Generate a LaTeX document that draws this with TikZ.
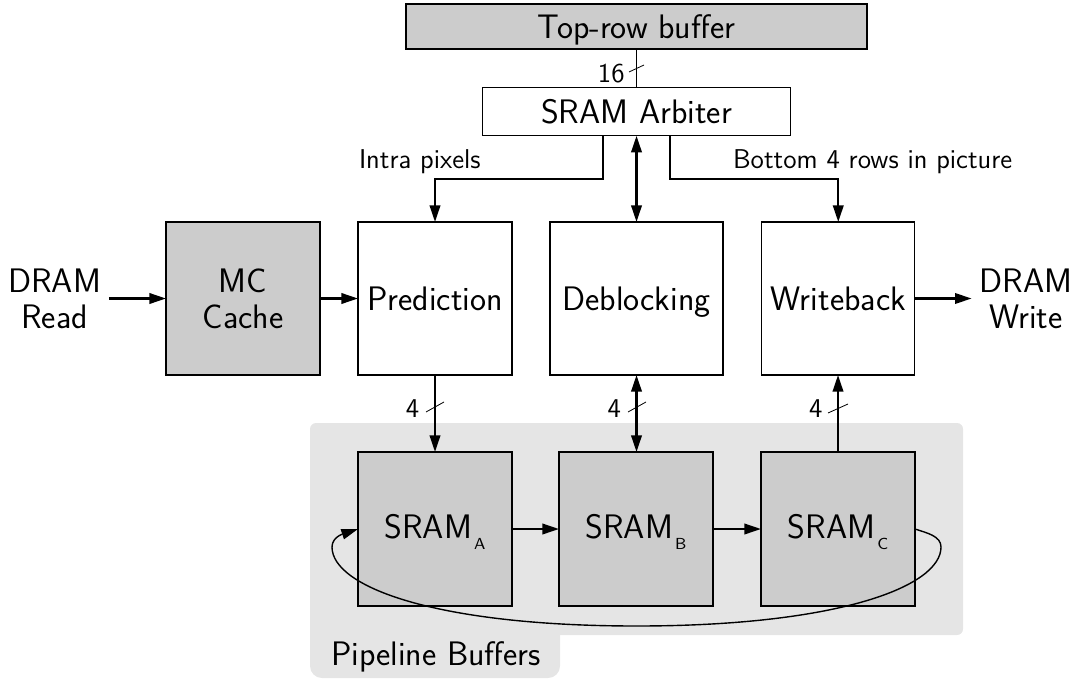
\documentclass[tikz,border=0pt]{standalone}
\usetikzlibrary{arrows.meta,calc}
\renewcommand{\familydefault}{\sfdefault}

% font sizes used in the block diagram
\newcommand{\diagbig}{\sffamily\fontsize{17pt}{18pt}\selectfont}
\newcommand{\diagsmall}{\sffamily\fontsize{13.6pt}{16pt}\selectfont}
% small lowered index for the SRAM banks
\newcommand{\sramidx}[1]{\kern1pt\raisebox{-5.5pt}{\fontsize{8pt}{9pt}\selectfont #1}}

\tikzset{
  blk/.style={draw, line width=0.7pt, inner sep=0pt, outer sep=0pt,
              align=center, font=\diagbig, text depth=0pt},
  shaded/.style={blk, fill=black!20},
  bufbox/.style={shaded, minimum width=77pt, minimum height=77pt, text depth=2.5pt},
  ext/.style={align=center, font=\diagbig, inner sep=4pt, outer sep=0pt},
  lbl/.style={inner sep=0pt, outer sep=0pt, font=\diagsmall},
  tip/.tip={Triangle[length=8.3pt,width=5.2pt]},
  arr/.style={line width=1.2pt, -tip},
  darr/.style={line width=1.2pt, tip-tip},
  link/.style={line width=0.7pt},
  busmark/.style={line width=0.4pt},
  loopln/.style={line width=0.7pt, -tip},
}

\begin{document}
\begin{tikzpicture}[x=0.5pt, y=-0.5pt, font=\sffamily]
  \useasboundingbox (0,0) rectangle (1075,680);

  % pipeline buffer region with its label tab
  \fill[black!10, rounded corners=3pt] (310,423) rectangle (963,635);
  \fill[black!10, rounded corners=6pt] (310,600) rectangle (560,678);
  \node[font=\diagbig, inner sep=0pt, anchor=base] (pbl) at (436,665) {Pipeline Buffers};

  % blocks
  \node[shaded, minimum width=230.5pt, minimum height=22.5pt] (trb) at (636.5,26.5) {Top-row buffer};
  \node[blk, minimum width=153.75pt, minimum height=24pt] (arb) at (636.5,111.75) {SRAM Arbiter};

  \node[shaded, minimum width=77pt, minimum height=76.5pt] (mc) at (243,298.5) {MC\\Cache};
  \node[blk, minimum width=77pt, minimum height=76.5pt] (pred) at (435,298.5) {Prediction};
  \node[blk, minimum width=86.5pt, minimum height=76.5pt] (deb) at (636.5,298.5) {Deblocking};
  \node[blk, minimum width=76.5pt, minimum height=76.5pt] (wb) at (838.25,298.5) {Writeback};

  \node[bufbox] (sa) at (435,529) {SRAM\sramidx{A}};
  \node[bufbox] (sb) at (636,529) {SRAM\sramidx{B}};
  \node[bufbox] (sc) at (838,529) {SRAM\sramidx{C}};

  \node[ext] (dr) at (54.5,298.5) {DRAM\\Read};
  \node[ext] (dw) at (1026,298.5) {DRAM\\Write};

  % data paths
  \draw[arr] (dr) -- (mc);
  \draw[arr] (mc) -- (pred);
  \draw[arr] (wb) -- (dw);
  \draw[arr] (sa) -- (sb);
  \draw[arr] (sb) -- (sc);

  \draw[link] (trb) -- (arb);
  \draw[darr] (arb) -- (deb);
  \draw[arr] ($(arb.south)+(-33.5,0)$) -- ++(0,43) -| (pred.north);
  \draw[arr] ($(arb.south)+(33.5,0)$) -- ++(0,43) -| (wb.north);

  \draw[arr] (pred) -- (sa);
  \draw[darr] (deb.south) -- (deb.south |- sb.north);
  \draw[arr] (sc.north) -- (sc.north |- wb.south);

  % edge labels
  \node[lbl, anchor=base west] (ipx) at (359,168) {Intra pixels};
  \node[lbl, anchor=base west] (b4r) at (733,168) {Bottom 4 rows in picture};

  % bus widths
  \draw[busmark] ($(trb.south)+(-7.5,23)$) -- ++(15,-7);
  \node[lbl] (w16) at (611.3,73.8) {16};
  \draw[busmark] ($(pred.south)+(-9,37)$) -- ++(18,-10);
  \node[lbl] (w4a) at (412.5,408.3) {4};
  \draw[busmark] ($(deb.south)+(-8.5,37)$) -- ++(18,-10);
  \node[lbl] (w4b) at (614.2,408.3) {4};
  \draw[busmark] ($(sc.north)+(-10,-39)$) -- ++(20,-9);
  \node[lbl] (w4c) at (815.8,408.3) {4};

  % wrap-around from the last buffer back to the first
  \draw[loopln] (sc.east) .. controls (927,533) and (941,536) .. (941,547)
    .. controls (941,587) and (836.5,626) .. (636.5,626)
    .. controls (436.5,626) and (332,587) .. (332,547)
    .. controls (332,536) and (346,533) .. (sa.west);
\end{tikzpicture}
\end{document}
